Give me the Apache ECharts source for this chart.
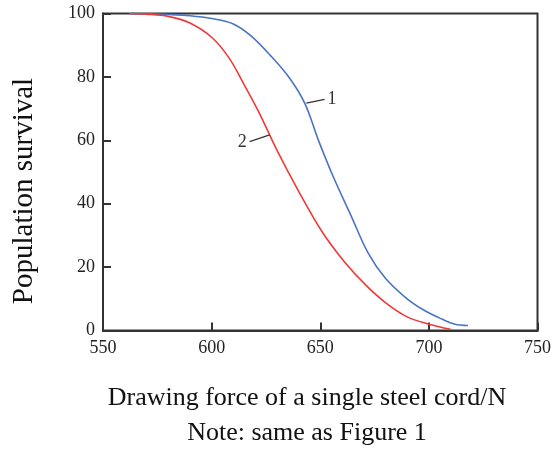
<!DOCTYPE html>
<html>
<head>
<meta charset="utf-8">
<script src="https://cdn.jsdelivr.net/npm/echarts@6/dist/echarts.min.js"></script>
<style>
  html, body { margin: 0; padding: 0; background: #fff; }
  #chart { width: 554px; height: 452px; }
</style>
</head>
<body>
<div id="chart"></div>
<script>
// Drawing force of a single steel cord (N) vs. population survival (%)
const xTicks = [550, 600, 650, 700, 750];
const yTicks = [0, 20, 40, 60, 80, 100];

// Curve 1
const force1 = [562, 570, 580, 590, 600, 610, 618, 627, 636, 643, 649, 656, 664, 672, 680, 690, 698, 706, 712, 718];
const survival1 = [100, 99.9, 99.7, 99.3, 98.4, 96.7, 93, 86.8, 79.5, 71.5, 60.3, 48.5, 36.5, 24.5, 16.5, 10, 6.3, 3.6, 2.0, 1.6];

// Curve 2
const force2 = [562, 570, 580, 590, 600, 608, 615, 622, 630, 640, 651, 661, 671, 680, 690, 700, 710];
const survival2 = [100, 99.8, 99.1, 97, 92.5, 86, 77.5, 68.5, 57, 44, 31, 21.8, 14.3, 8.8, 4.3, 2.0, 0.4];

// Curve labels: leader line start (on curve), leader line end
const label1 = { text: '1', from: [643.6, 71.7], to: [652, 72.9] };
const label2 = { text: '2', from: [626.7, 61.7], to: [617.5, 59.6] };

const serif = '"Liberation Serif", "Times New Roman", serif';
const zip = (xs, ys) => xs.map((x, i) => [x, ys[i]]);

function leader(lbl) {
  return {
    silent: true,
    symbol: 'none',
    animation: false,
    lineStyle: { color: '#333', width: 1.2, type: 'solid' },
    label: {
      show: true, position: 'end', distance: 3, formatter: lbl.text,
      fontFamily: serif, fontSize: 18, color: '#333'
    },
    emphasis: { disabled: true },
    data: [[{ coord: lbl.from }, { coord: lbl.to }]]
  };
}

const chart = echarts.init(document.getElementById('chart'), null, { renderer: 'canvas' });
chart.setOption({
  animation: false,
  backgroundColor: '#fff',
  grid: {
    left: 103, right: 16.5, top: 13.5, bottom: 121.5,
    show: true, borderColor: '#333', borderWidth: 2
  },
  xAxis: {
    type: 'value', min: xTicks[0], max: xTicks[xTicks.length - 1], interval: 50,
    axisLine: { show: true, lineStyle: { color: '#333', width: 2 } },
    axisTick: { show: true, inside: true, length: 8, lineStyle: { color: '#333', width: 2 } },
    axisLabel: { margin: 9, fontFamily: serif, fontSize: 18, color: '#222' },
    splitLine: { show: false }
  },
  yAxis: {
    type: 'value', min: yTicks[0], max: yTicks[yTicks.length - 1], interval: 20,
    axisLine: { show: true, lineStyle: { color: '#333', width: 2 } },
    axisTick: { show: true, inside: true, length: 8, lineStyle: { color: '#333', width: 2 } },
    axisLabel: { margin: 8, fontFamily: serif, fontSize: 18, color: '#222' },
    splitLine: { show: false }
  },
  series: [
    {
      name: '1', type: 'line', data: zip(force1, survival1),
      showSymbol: false, smooth: 0.35,
      lineStyle: { color: '#4a74c4', width: 1.6 },
      markLine: leader(label1)
    },
    {
      name: '2', type: 'line', data: zip(force2, survival2),
      showSymbol: false, smooth: 0.35,
      lineStyle: { color: '#f03a3a', width: 1.6 },
      markLine: leader(label2)
    }
  ],
  graphic: [
    {
      type: 'text', x: 24, y: 191, rotation: Math.PI / 2,
      style: {
        text: 'Population survival', font: '29px ' + serif, fill: '#111',
        textAlign: 'center', textVerticalAlign: 'middle'
      }
    },
    {
      type: 'text', x: 307, y: 398,
      style: {
        text: 'Drawing force of a single steel cord/N', font: '26px ' + serif, fill: '#111',
        textAlign: 'center', textVerticalAlign: 'middle'
      }
    },
    {
      type: 'text', x: 307, y: 433,
      style: {
        text: 'Note: same as Figure 1', font: '26px ' + serif, fill: '#111',
        textAlign: 'center', textVerticalAlign: 'middle'
      }
    }
  ]
});
</script>
</body>
</html>
